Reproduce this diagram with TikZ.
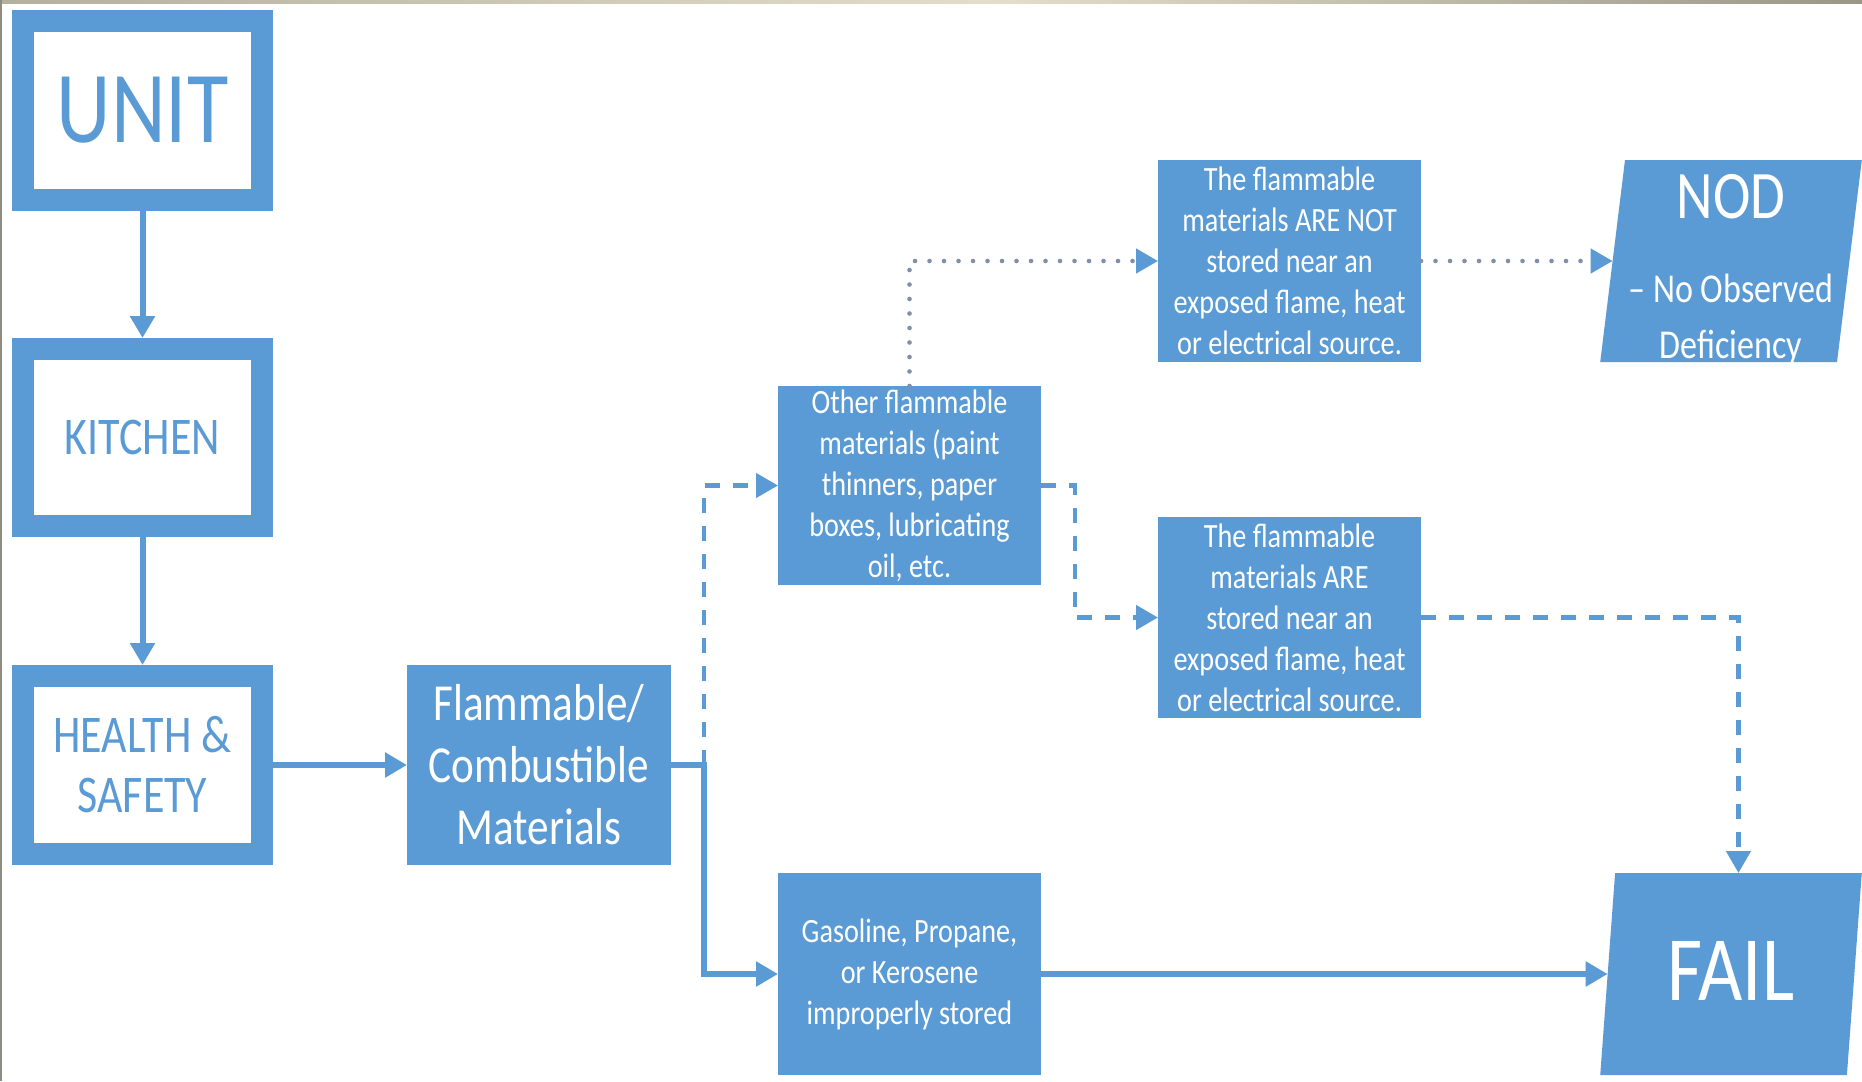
\documentclass[tikz,border=0pt]{standalone}
\usepackage{fontspec}
\setmainfont{Carlito}[FakeStretch=0.83]
\usetikzlibrary{arrows.meta,shapes.geometric}
\definecolor{flowblue}{HTML}{5B9BD5}
\definecolor{dotgray}{HTML}{8090A8}
\definecolor{edgegray}{HTML}{8E8C7E}
\definecolor{stripA}{HTML}{B3B09E}
\definecolor{stripB}{HTML}{E2DECA}
\definecolor{stripC}{HTML}{9B9787}
\begin{document}
\begin{tikzpicture}[x=1pt,y=-1pt,
  outlinebox/.style={draw=flowblue, line width=22pt, fill=white, text=flowblue,
    align=center, inner sep=0pt, minimum width=239pt},
  solidbox/.style={fill=flowblue, text=white, align=center, inner sep=0pt, outer sep=0pt},
  smalltext/.style={font=\fontsize{34}{41}\selectfont},
  slantbox/.style={trapezium, trapezium left angle=83, trapezium right angle=97,
    trapezium stretches=true, fill=flowblue, text=white, align=center,
    inner sep=0pt, outer sep=0pt, minimum width=262pt},
  flowtip/.style={-{Triangle[length=22pt,width=24pt,color=flowblue]}},
  solidflow/.style={draw=flowblue, line width=6pt, flowtip},
  dashflow/.style={draw=flowblue, line width=4.5pt, dash pattern=on 15pt off 13pt, flowtip},
  dotflow/.style={draw=dotgray, line width=4.6pt, line cap=round, dash pattern=on 0pt off 14.5pt, flowtip},
]
\useasboundingbox (0,0) rectangle (1862,1081);
\fill[white] (0,0) rectangle (1862,1081);

% frame edges
\shade[left color=stripA, right color=stripB] (0,0) rectangle (1000,3.5);
\shade[left color=stripB, right color=stripC] (1000,0) rectangle (1862,3.5);
\fill[edgegray] (0,0) rectangle (1.5,1081);

% outlined category boxes
\node[outlinebox, minimum height=179pt, font=\fontsize{102}{102}\selectfont] (unit) at (142.5,110.5) {UNIT};
\node[outlinebox, minimum height=177pt, font=\fontsize{53}{53}\selectfont] (kit) at (142.5,437.5) {KITCHEN};
\node[outlinebox, minimum height=178pt, font=\fontsize{53}{60}\selectfont] (hs) at (142.5,765) {HEALTH \&\\SAFETY};

% filled boxes
\node[solidbox, minimum width=264pt, minimum height=200pt, font=\fontsize{52}{62}\selectfont] (flam) at (539,765) {Flammable/\\Combustible\\Materials};
\node[solidbox, smalltext, minimum width=263pt, minimum height=199pt] (other) at (909.5,485.5) {Other flammable\\materials (paint\\thinners, paper\\boxes, lubricating\\oil, etc.};
\node[solidbox, smalltext, minimum width=263pt, minimum height=202pt] (gas) at (909.5,974) {Gasoline, Propane,\\or Kerosene\\improperly stored};
\node[solidbox, smalltext, minimum width=263pt, minimum height=202pt] (nt) at (1289.5,261) {The flammable\\materials ARE NOT\\stored near an\\exposed flame, heat\\or electrical source.};
\node[solidbox, smalltext, minimum width=263pt, minimum height=201pt] (are) at (1289.5,617.5) {The flammable\\materials ARE\\stored near an\\exposed flame, heat\\or electrical source.};

% outcome parallelograms
\node[slantbox, minimum height=202pt, font=\fontsize{41}{56}\selectfont] (nod) at (1731,261)
  {\rule{0pt}{55pt}{\fontsize{68}{68}\selectfont NOD}\\[28pt]– No Observed\\\raisebox{0pt}[\height][0pt]{Deficiency}};
\node[slantbox, minimum height=202pt, font=\fontsize{92}{92}\selectfont] (fail) at (1731,974) {\raisebox{7pt}{FAIL}};

% connectors
\draw[solidflow] (unit) -- (kit);
\draw[solidflow] (kit) -- (hs);
\draw[solidflow] (hs) -- (flam);
\coordinate (split) at ([xshift=33pt]flam.east);
\draw[draw=flowblue, line width=6pt] (flam.east) -- (split);
\draw[solidflow] ([yshift=3pt]split) |- (gas.west);
\draw[dashflow] (split) |- (other.west);
\draw[dotflow] (other.north) |- (nt.west);
\draw[dotflow] (nt.east) -- (nt.east -| nod.left side);
\draw[dashflow] (other.east) -- ++(34,0) |- (are.west);
\draw[dashflow] (are.east) -| (fail.top side);
\draw[solidflow] (gas.east) -- (gas.east -| fail.left side);
\end{tikzpicture}
\end{document}
